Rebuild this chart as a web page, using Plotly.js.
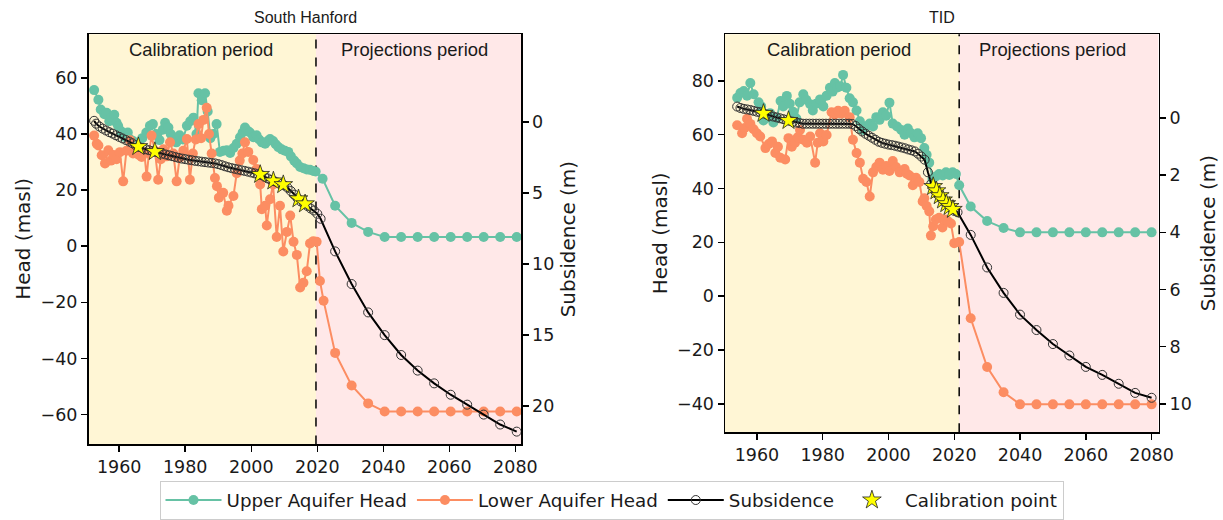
<!DOCTYPE html>
<html>
<head>
<meta charset="utf-8">
<script src="https://cdn.plot.ly/plotly-3.0.1.min.js"></script>
<style>html,body{margin:0;padding:0;background:#fff;}#chart{width:1223px;height:520px;}</style>
</head>
<body>
<div id="chart"></div>
<script>
// ---------------- DATA: South Hanford ----------------
const SH_upper = [[1952.4,55.6],[1953.7,52.2],[1954.4,48.7],[1955.5,47.0],[1956.2,47.5],[1957.0,44.5],[1957.7,45.8],[1958.5,46.8],[1959.2,44.0],[1959.7,42.8],[1960.5,41.0],[1961.2,40.2],[1961.8,38.8],[1962.6,40.5],[1963.4,38.0],[1964.2,37.5],[1965.0,36.8],[1966.0,36.0],[1967.0,38.5],[1968.2,40.5],[1969.3,42.9],[1970.2,43.5],[1971.2,40.0],[1972.2,37.8],[1973.2,41.5],[1973.9,44.0],[1974.9,42.3],[1975.6,40.0],[1976.4,38.8],[1977.3,37.0],[1978.3,39.5],[1979.3,38.0],[1980.5,42.9],[1981.5,44.5],[1982.5,45.8],[1983.4,40.0],[1984.0,54.5],[1985.0,52.0],[1986.0,54.5],[1986.8,48.0],[1987.6,38.5],[1988.5,40.0],[1989.5,43.5],[1990.5,33.6],[1991.6,34.0],[1992.6,34.2],[1993.6,33.2],[1994.6,35.0],[1995.6,36.5],[1996.6,38.8],[1997.4,40.5],[1998.1,42.3],[1999.0,41.0],[1999.6,40.5],[2000.6,38.8],[2001.6,39.5],[2002.4,38.0],[2003.2,37.0],[2004.2,36.5],[2005.0,37.5],[2005.7,38.2],[2006.6,37.5],[2007.4,36.3],[2008.2,35.3],[2009.2,34.5],[2010.2,34.0],[2011.2,33.6],[2012.0,32.0],[2013.0,30.5],[2013.8,29.5],[2014.8,28.2],[2015.8,27.8],[2016.8,27.3],[2017.8,27.2],[2018.8,26.8],[2019.5,26.6],[2021.6,24.0]];
const SH_lower = [[1952.4,39.4],[1953.2,36.5],[1953.7,35.9],[1954.7,32.4],[1955.7,29.5],[1956.7,34.2],[1957.5,30.5],[1958.3,32.5],[1959.2,31.0],[1960.2,33.5],[1961.2,23.1],[1962.2,34.0],[1963.3,37.7],[1964.2,33.0],[1965.0,34.5],[1966.0,32.5],[1966.8,31.8],[1967.6,33.5],[1968.3,24.8],[1969.0,33.0],[1969.8,39.4],[1970.8,34.0],[1971.8,23.7],[1972.6,31.0],[1973.4,34.5],[1974.4,32.0],[1975.4,37.0],[1976.4,33.0],[1977.4,23.1],[1978.3,31.5],[1979.4,34.0],[1980.5,38.2],[1981.4,23.7],[1982.3,33.0],[1983.2,38.0],[1984.0,43.5],[1984.8,38.5],[1985.5,45.0],[1986.5,49.3],[1987.2,40.0],[1988.0,33.0],[1989.0,24.3],[1989.6,21.4],[1990.2,17.3],[1991.5,19.0],[1992.6,12.6],[1993.1,14.4],[1994.6,17.9],[1995.6,26.0],[1996.5,30.5],[1997.3,33.0],[1998.1,37.0],[1999.1,33.6],[2000.6,30.7],[2001.6,27.5],[2002.7,22.0],[2003.2,13.2],[2004.2,14.4],[2004.7,7.4],[2005.7,16.7],[2006.6,22.0],[2007.7,3.3],[2008.7,14.4],[2009.7,-1.9],[2010.8,5.1],[2011.8,10.9],[2012.8,1.6],[2013.8,-3.1],[2014.8,-14.7],[2015.8,-13.0],[2016.8,-8.9],[2017.8,1.0],[2018.8,1.8],[2019.8,1.6],[2020.8,-12.4],[2021.9,-19.4]];
const SH_subs = [[1952.4,-0.1],[1953,0.1],[1954,0.3],[1955,0.45],[1956,0.58],[1957,0.7],[1958,0.8],[1959,0.92],[1960,1.03],[1961,1.14],[1962,1.25],[1963,1.36],[1964,1.48],[1965,1.62],[1966,1.74],[1967,1.82],[1968,1.9],[1969,1.97],[1970,2.03],[1971,2.09],[1972,2.15],[1973,2.21],[1974,2.27],[1975,2.33],[1976,2.39],[1977,2.45],[1978,2.51],[1979,2.56],[1980,2.6],[1981,2.64],[1982,2.68],[1983,2.72],[1984,2.75],[1985,2.78],[1986,2.81],[1987,2.84],[1988,2.87],[1989,2.9],[1990,2.95],[1991,3.02],[1992,3.1],[1993,3.17],[1994,3.23],[1995,3.28],[1996,3.33],[1997,3.38],[1998,3.43],[1999,3.48],[2000,3.54],[2001,3.6],[2002,3.66],[2003,3.72],[2004,3.84],[2005,3.96],[2006,4.07],[2007,4.16],[2008,4.25],[2009,4.35],[2010,4.45],[2011,4.62],[2012,4.85],[2013,5.1],[2014,5.35],[2015,5.58],[2016,5.74],[2017,5.9],[2018,6.08],[2019,6.22],[2020,6.45],[2021,6.8]];
const SH_calib = [[1965.8,1.72],[1970.8,2.07],[2002.7,3.68],[2006.7,4.14],[2009.7,4.4],[2014.3,5.4],[2016.3,5.75]];
const SH_proj_years = [2025.4,2030.4,2035.4,2040.4,2045.4,2050.4,2055.4,2060.4,2065.4,2070.4,2075.4,2080.4];
const SH_upper_proj = [14.4,8.3,5.1,3.3,3.3,3.3,3.3,3.3,3.3,3.3,3.3,3.3];
const SH_lower_proj = [-38.0,-49.6,-56.0,-58.9,-58.9,-58.9,-58.9,-58.9,-58.9,-58.9,-58.9,-58.9];
const SH_subs_proj = [9.1,11.4,13.4,15.0,16.4,17.5,18.4,19.2,19.9,20.6,21.3,21.8];
const SH_split_year = 2019.6;

// ---------------- DATA: TID ----------------
const TID_upper = [[1954.0,73.7],[1955.0,75.5],[1956.0,76.2],[1957.0,74.5],[1958.0,79.2],[1959.0,75.0],[1960.5,72.0],[1961.3,70.5],[1962.0,65.3],[1963.0,66.5],[1964.0,68.0],[1965.0,64.5],[1966.0,66.0],[1967.2,72.5],[1968.0,70.5],[1969.1,74.4],[1970.0,71.5],[1971.0,68.5],[1972.0,66.0],[1973.0,72.0],[1974.1,75.0],[1975.0,73.0],[1976.2,71.3],[1977.0,69.0],[1978.0,71.5],[1979.2,73.1],[1980.2,70.5],[1981.2,74.5],[1982.2,77.4],[1983.0,76.0],[1983.7,79.2],[1984.5,77.5],[1985.4,78.0],[1986.2,82.2],[1987.2,77.4],[1988.2,73.5],[1989.2,72.0],[1990.3,69.0],[1991.3,65.0],[1992.3,61.7],[1993.3,63.0],[1994.3,64.1],[1995.3,63.0],[1996.3,66.5],[1997.3,65.5],[1998.3,68.3],[1999.3,67.0],[2000.3,71.9],[2001.3,64.1],[2002.6,63.0],[2003.9,61.7],[2004.9,60.0],[2005.9,62.3],[2006.9,60.5],[2007.9,59.0],[2008.9,60.5],[2009.9,58.7],[2010.9,55.0],[2011.6,52.5],[2012.4,49.6],[2013.4,43.6],[2014.4,44.5],[2015.4,45.4],[2016.5,44.8],[2017.5,46.0],[2018.5,45.0],[2019.5,46.0],[2020.5,45.4],[2021.5,41.2]];
const TID_lower = [[1954.0,63.5],[1955.5,60.5],[1956.3,62.5],[1957.0,65.9],[1958.0,64.0],[1959.0,62.0],[1960.0,60.5],[1961.0,59.3],[1962.6,55.0],[1963.6,56.5],[1964.6,57.5],[1965.6,53.2],[1966.4,55.5],[1967.1,51.4],[1968.6,50.8],[1969.6,58.7],[1970.6,55.5],[1971.6,57.0],[1972.4,59.0],[1973.1,61.7],[1974.1,58.1],[1975.2,57.0],[1976.2,59.3],[1977.7,49.6],[1978.5,57.0],[1979.2,60.5],[1980.2,57.5],[1981.2,59.9],[1982.7,68.3],[1983.7,67.5],[1984.7,68.9],[1985.7,67.8],[1986.7,68.9],[1988.2,66.5],[1989.2,58.1],[1990.3,53.2],[1991.3,49.6],[1992.3,43.6],[1993.3,42.4],[1994.3,37.0],[1995.3,46.0],[1996.3,48.0],[1997.3,49.6],[1998.3,47.0],[1999.3,48.4],[2000.3,46.5],[2001.3,50.2],[2002.3,48.0],[2003.4,46.0],[2004.9,47.2],[2005.6,45.5],[2006.4,44.8],[2007.4,41.2],[2008.4,44.0],[2009.4,42.4],[2010.4,35.2],[2010.9,36.4],[2011.6,33.5],[2012.4,31.5],[2012.9,22.5],[2013.6,26.0],[2014.4,28.5],[2015.4,29.1],[2016.4,25.5],[2017.2,28.5],[2018.0,27.9],[2019.0,27.0],[2020.0,19.7],[2021.5,20.1]];
const TID_subs = [[1954,-0.4],[1955,-0.35],[1956,-0.32],[1957,-0.3],[1958,-0.28],[1959,-0.25],[1960,-0.22],[1961,-0.2],[1962,-0.16],[1963,-0.12],[1964,-0.08],[1965,-0.05],[1966,-0.02],[1967,0.01],[1968,0.04],[1969,0.07],[1970,0.1],[1971,0.13],[1972,0.16],[1973,0.18],[1974,0.2],[1975,0.2],[1976,0.2],[1977,0.2],[1978,0.2],[1979,0.2],[1980,0.2],[1981,0.2],[1982,0.2],[1983,0.2],[1984,0.2],[1985,0.2],[1986,0.2],[1987,0.2],[1988,0.2],[1989,0.21],[1990,0.28],[1991,0.38],[1992,0.47],[1993,0.55],[1994,0.62],[1995,0.69],[1996,0.76],[1997,0.83],[1998,0.87],[1999,0.9],[2000,0.93],[2001,0.95],[2002,0.97],[2003,1.0],[2004,1.03],[2005,1.06],[2006,1.1],[2007,1.13],[2008,1.17],[2009,1.25],[2010,1.35],[2011,1.46],[2012,1.9],[2013,2.3],[2014,2.5],[2015,2.65],[2016,2.8],[2017,2.93],[2018,3.05],[2019,3.15],[2020,3.25],[2021,3.3]];
const TID_calib = [[1962.0,-0.16],[1969.6,0.09],[2013.6,2.4],[2014.6,2.55],[2015.6,2.72],[2016.6,2.87],[2017.6,3.0],[2018.6,3.1],[2019.6,3.2]];
const TID_proj_years = [2025,2030,2035,2040,2045,2050,2055,2060,2065,2070,2075,2080];
const TID_upper_proj = [33.3,27.9,25.3,23.7,23.7,23.7,23.7,23.7,23.7,23.7,23.7,23.7];
const TID_lower_proj = [-8.2,-26.3,-35.7,-40.2,-40.2,-40.2,-40.2,-40.2,-40.2,-40.2,-40.2,-40.2];
const TID_subs_proj = [4.09,5.23,6.12,6.88,7.42,7.91,8.31,8.71,8.99,9.3,9.62,9.79];
const TID_split_year = 2021.5;

const panelTitles = ['South Hanford', 'TID'];
const periodLabels = ['Calibration period', 'Projections period'];
const legendNames = ['Upper Aquifer Head', 'Lower Aquifer Head', 'Subsidence', 'Calibration point'];

// ---------------- STYLE ----------------
const C_UP = '#66c2a5', C_LO = '#fc8d62';
const TXT = '#1a1a1a';
const TICKFONT = {family: 'DejaVu Sans', size: 17.5, color: TXT};

function series(pairs, projYears, projVals) {
  const x = pairs.map(p => p[0]), y = pairs.map(p => p[1]);
  if (projYears) { projYears.forEach((v, i) => { x.push(v); y.push(projVals[i]); }); }
  return {x, y};
}

function panelTraces(up, lo, su, ca, xa, ya, ya2, show) {
  return [
    {x: up.x, y: up.y, xaxis: xa, yaxis: ya, mode: 'lines+markers', name: legendNames[0], legendgroup: 'u', showlegend: show,
     line: {color: C_UP, width: 2}, marker: {color: C_UP, size: 10}},
    {x: lo.x, y: lo.y, xaxis: xa, yaxis: ya, mode: 'lines+markers', name: legendNames[1], legendgroup: 'l', showlegend: show,
     line: {color: C_LO, width: 2}, marker: {color: C_LO, size: 10}},
    {x: su.x, y: su.y, xaxis: xa, yaxis: ya2, mode: 'lines+markers', name: legendNames[2], legendgroup: 's', showlegend: show,
     line: {color: '#000', width: 2}, marker: {symbol: 'circle-open', size: 9, color: '#333', line: {width: 1}}},
    {x: ca.x, y: ca.y, xaxis: xa, yaxis: ya2, mode: 'markers', name: legendNames[3], legendgroup: 'c', showlegend: show,
     marker: {symbol: 'star', size: 14, color: '#ffff00', line: {color: '#222', width: 0.8}}}
  ];
}

const traces = [].concat(
  panelTraces(series(SH_upper, SH_proj_years, SH_upper_proj), series(SH_lower, SH_proj_years, SH_lower_proj),
              series(SH_subs, SH_proj_years, SH_subs_proj), series(SH_calib), 'x', 'y', 'y2', true),
  panelTraces(series(TID_upper, TID_proj_years, TID_upper_proj), series(TID_lower, TID_proj_years, TID_lower_proj),
              series(TID_subs, TID_proj_years, TID_subs_proj), series(TID_calib), 'x2', 'y3', 'y4', false)
);

const W = 1223, H = 520;
const px = v => v / W, py = v => 1 - v / H;

const axBase = {showline: true, linecolor: '#000', linewidth: 1.5, ticks: 'outside', ticklen: 6, tickwidth: 1.5,
  tickcolor: '#000', showgrid: false, zeroline: false, tickfont: TICKFONT, automargin: false, fixedrange: true};

const XR1 = [1950.7, 2081.7], XR2 = [1950.3, 2082.1];

function note(text, x, y, size, family, angle) {
  return {text: text, x: px(x), y: py(y), xref: 'paper', yref: 'paper', xanchor: 'center', yanchor: 'middle',
    showarrow: false, textangle: angle || 0, font: {family: family, size: size, color: TXT}};
}

const layout = {
  width: W, height: H, autosize: false,
  margin: {l: 0, r: 0, t: 0, b: 0},
  paper_bgcolor: '#fff', plot_bgcolor: '#fff',
  showlegend: true,
  xaxis: Object.assign({}, axBase, {domain: [px(88.5), px(521)], range: XR1, anchor: 'y', mirror: true, dtick: 20, tick0: 1960}),
  yaxis: Object.assign({}, axBase, {domain: [py(454), py(35)], range: [-70.6, 75.5], anchor: 'x', dtick: 20, tick0: 0}),
  yaxis2: Object.assign({}, axBase, {overlaying: 'y', side: 'right', anchor: 'x', range: [22.7, -6.2], tickvals: [0, 5, 10, 15, 20]}),
  xaxis2: Object.assign({}, axBase, {domain: [px(725), px(1158.5)], range: XR2, anchor: 'y3', mirror: true, dtick: 20, tick0: 1960}),
  yaxis3: Object.assign({}, axBase, {domain: [py(441.7), py(35)], range: [-50.6, 97.3], anchor: 'x2', dtick: 20, tick0: 0}),
  yaxis4: Object.assign({}, axBase, {overlaying: 'y3', side: 'right', anchor: 'x2', range: [11.0, -2.93], tickvals: [0, 2, 4, 6, 8, 10]}),
  shapes: [
    {type: 'rect', xref: 'x', yref: 'y domain', x0: XR1[0], x1: SH_split_year, y0: 0, y1: 1, fillcolor: '#fff6d5', line: {width: 0}, layer: 'below'},
    {type: 'rect', xref: 'x', yref: 'y domain', x0: SH_split_year, x1: XR1[1], y0: 0, y1: 1, fillcolor: '#ffe8e8', line: {width: 0}, layer: 'below'},
    {type: 'line', xref: 'x', yref: 'y domain', x0: SH_split_year, x1: SH_split_year, y0: 0, y1: 1, line: {color: '#000', width: 1.5, dash: 'dash'}, layer: 'below'},
    {type: 'rect', xref: 'x2', yref: 'y3 domain', x0: XR2[0], x1: TID_split_year, y0: 0, y1: 1, fillcolor: '#fff6d5', line: {width: 0}, layer: 'below'},
    {type: 'rect', xref: 'x2', yref: 'y3 domain', x0: TID_split_year, x1: XR2[1], y0: 0, y1: 1, fillcolor: '#ffe8e8', line: {width: 0}, layer: 'below'},
    {type: 'line', xref: 'x2', yref: 'y3 domain', x0: TID_split_year, x1: TID_split_year, y0: 0, y1: 1, line: {color: '#000', width: 1.5, dash: 'dash'}, layer: 'below'}
  ],
  annotations: [
    note(panelTitles[0], 305, 18, 16, 'Liberation Sans'),
    note(panelTitles[1], 941.7, 18, 16, 'Liberation Sans'),
    note(periodLabels[0], 201.3, 51, 18.4, 'Liberation Sans'),
    note(periodLabels[1], 414.5, 51, 18.4, 'Liberation Sans'),
    note(periodLabels[0], 839, 51, 18.4, 'Liberation Sans'),
    note(periodLabels[1], 1052.5, 51, 18.4, 'Liberation Sans'),
    note('Head (masl)', 23.5, 244.5, 20, 'DejaVu Sans', -90),
    note('Subsidence (m)', 568, 244.5, 20, 'DejaVu Sans', -90),
    note('Head (masl)', 660, 238.4, 20, 'DejaVu Sans', -90),
    note('Subsidence (m)', 1208, 238.4, 20, 'DejaVu Sans', -90)
  ],
  legend: {orientation: 'h', x: 0.5, xanchor: 'center', y: py(491), yanchor: 'top', bordercolor: '#cccccc', borderwidth: 1,
    bgcolor: '#fff', font: {family: 'DejaVu Sans', size: 18.3, color: TXT}, itemwidth: 56, traceorder: 'normal'}
};

Plotly.newPlot('chart', traces, layout, {staticPlot: true, displayModeBar: false});
</script>
</body>
</html>
